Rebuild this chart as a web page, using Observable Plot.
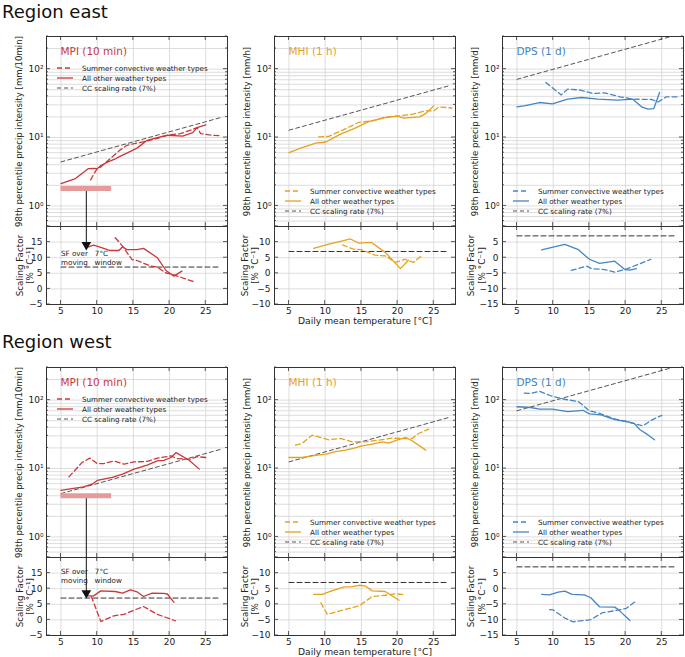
<!DOCTYPE html>
<html><head><meta charset="utf-8">
<script src="https://cdn.jsdelivr.net/npm/d3@7"></script>
<script src="https://cdn.jsdelivr.net/npm/@observablehq/plot@0.6"></script>
<style>
body{margin:0;background:#fff;}
#root{position:relative;width:685px;height:657px;font-family:"DejaVu Sans",sans-serif;overflow:hidden;background:#fff;}
#root svg{position:absolute;}
.rtitle{position:absolute;left:2px;font-size:18px;color:#111;line-height:1;white-space:nowrap;}
</style></head><body><div id="root"></div>
<script>
// ---------- DATA ----------
const regions = ["Region east", "Region west"];
const productTitles = ["MPI (10 min)", "MHI (1 h)", "DPS (1 d)"];
const productUnits = ["98th percentile precip intensity [mm/10min]", "98th percentile precip intensity [mm/h]", "98th percentile precip intensity [mm/d]"];
const productColors = ["#c9383a", "#e6a21c", "#4685c4"];
const legendLabels = ["Summer convective weather types", "All other weather types", "CC scaling rate (7%)"];
const xTicks = [5, 10, 15, 20, 25];
const logLabels = [1, 10, 100];
const logGrid = [0.5,0.6,0.7,0.8,0.9,1,2,3,4,5,6,7,8,9,10,20,30,40,50,60,70,80,90,100,200,300];
const sfDomains = [[-5, 20], [-10, 15], [-15, 10]];
const sfTicks = [[-5,0,5,10,15,20], [-10,-5,0,5,10,15], [-15,-10,-5,0,5,10]];
const sfReference = [[5, 7], [27, 7]];

// Region east, intensities [T, value]
const eastMpiAll = [[5,2.12],[7,2.51],[8.8,3.52],[9.5,3.55],[10,3.5],[10.5,3.9],[11.5,4.4],[12.6,4.93],[13,5.2],[14.1,5.9],[15.5,7.0],[16.9,9.1],[18.3,10],[19.7,10.8],[21.8,10.5],[23.2,11.8],[23.8,14],[25,15.3]];
const eastMpiConv = [[9.1,2.4],[9.6,3.0],[10,3.5],[10.5,3.7],[11.5,4.6],[12.5,5.7],[13.2,6.6],[14.1,7.7],[15.5,8.3],[16.9,8.9],[18.3,9.7],[19.9,10.9],[21.5,11.4],[22.9,12.8],[23.8,14],[24.3,11.4],[25.5,10.9],[27,10.6]];
const eastMpiCC = [[5,4.4],[27,19.5]];
const eastMhiAll = [[5,6.0],[6.8,7.1],[8.7,8.3],[10.1,8.6],[12.1,11.2],[14,13.5],[16,17.1],[17.9,19.2],[20,20.5],[20.9,19.2],[23,20],[23.9,22.4],[25,29]];
const eastMhiConv = [[9.1,10.2],[10.5,10.4],[12.4,12.8],[14.6,16.6],[17,17.9],[18.3,20],[20,20.6],[22.1,21.9],[23.9,24.6],[25,24.5],[25.7,28],[27.5,27]];
const eastMhiCC = [[5,12.8],[27,56.7]];
const eastDpsAll = [[5,28.1],[6,29],[8.1,32.5],[9.9,31],[12,36.4],[13.9,38.5],[16.2,36.4],[18.9,35.2],[21,36.4],[22.2,28.1],[23.1,26],[23.9,26.5],[24.7,45.6]];
const eastDpsConv = [[9,63.8],[10.4,48.2],[11.1,42],[12,51],[13.6,49.6],[15.5,44],[17.1,45],[19.2,39.4],[21,36.4],[23.6,36],[24.5,33],[25.6,39.4],[27.3,39.4]];
const eastDpsCC = [[5,71],[27,315]];
// Region east, scaling factors [T, %/°C]
const eastMpiAllSF = [[8.5,13.2],[9.5,14],[10.5,13.3],[11.8,12.3],[13,12.3],[13.5,13.5],[14.1,12.6],[15.5,12.6],[16.4,13],[18.3,10],[19.5,5.9],[20.6,4.1],[21.7,5.7]];
const eastMpiConvSF = [[12.5,16.4],[13.5,13.7],[14.8,9.4],[15.5,9.1],[17.4,7.3],[18.3,7],[19.5,5.1],[20.2,4.8],[23.4,2.25]];
const eastMhiAllSF = [[8.4,8.0],[10.1,9.1],[12.1,10.2],[13.5,11],[14.6,9.7],[16.4,9.9],[18.3,6.7],[20.4,1.5],[21.5,4.2]];
const eastMhiConvSF = [[12.4,9.1],[13.8,7.8],[15.1,7.5],[16.9,5.8],[18.3,5.6],[19.7,3.5],[21,4.5],[22.2,3.5],[23.4,5.8]];
const eastDpsAllSF = [[8.4,2.5],[9.7,3.2],[11.6,4.3],[13.4,2.7],[15,-0.5],[16.4,-1.8],[18.5,-1.1],[19.9,-3.8],[20.6,-4],[21.5,-3.5]];
const eastDpsConvSF = [[12.5,-4.1],[14.6,-2.7],[15.3,-3.5],[17.1,-3.8],[18.5,-4.6],[19.9,-3.8],[21.7,-2.2],[23.5,-0.5]];

// Region west, intensities
const westMpiAll = [[5,4.8],[6.5,5.1],[8.1,5.4],[9.3,5.9],[10,6.7],[12.1,7.4],[13.5,8.3],[15.1,9.8],[16.9,11.2],[18.3,12.9],[19.2,13.2],[20.2,14.5],[20.9,17.1],[22.7,13.2],[24.1,9.8]];
const westMpiConv = [[6.1,7.55],[7.9,12.2],[9,14.2],[10,11.8],[10.9,11.8],[12.3,12.9],[13.7,11.6],[15.1,12.5],[16.9,12.7],[18.3,14.2],[20.2,15.3],[21,14],[22.9,13.7],[23.8,14.9],[25,14.5]];
const westMpiCC = [[5,4.3],[27,19]];
const westMhiAll = [[5,14.5],[6.8,14.5],[8.9,15.7],[10.1,16.2],[11.4,17.7],[12.8,18.6],[14,19.8],[15.1,21.5],[16.5,22.7],[17.9,24.6],[18.8,23.5],[20,26.3],[21.1,28.4],[22,25.5],[23.9,18.6]];
const westMhiConv = [[5.9,21.9],[6.8,23.3],[8.2,30.7],[9.1,29],[10.5,26.3],[12.1,27.5],[13.7,24.6],[15.6,24.6],[17.4,26],[19.2,27.8],[20.6,27.5],[22,27.5],[22.9,32.5],[24.3,37.7]];
const westMhiCC = [[5,12.5],[27,55.4]];
const westDpsAll = [[5,80],[6.9,78],[8.1,74],[9.9,74],[12,68],[14.1,71],[15,63],[16.6,61],[18.5,52],[20.1,48.7],[21.2,45.6],[22,36.8],[23.1,31],[24,26.3]];
const westDpsConv = [[6,127],[6.9,125],[8.1,135],[9.7,115],[11.6,103],[13.5,95],[15,70],[16.2,65],[18.5,53],[20.1,48.7],[21.5,44.6],[22.4,42],[23.6,51],[25,60]];
const westDpsCC = [[5,70],[27,310]];
// Region west, scaling factors
const westMpiAllSF = [[8.5,7.7],[9.5,7.7],[10.5,9.3],[12.5,9.1],[13.5,8.6],[14.6,9.6],[15.5,9],[16.4,7.5],[17.6,8.6],[19.2,8.5],[19.7,8.3],[20.6,5.6]];
const westMpiConvSF = [[9.2,7.5],[10.5,-0.5],[12.3,1.3],[13.7,1.8],[16.4,4.3],[18.3,1.8],[20.8,-0.3]];
const westMhiAllSF = [[8.4,3.2],[9.6,3.2],[10.5,4],[12.6,5.6],[13.5,5.6],[14.7,6.1],[15.6,5.8],[16.5,4.3],[18.3,4.1],[20.2,1.3]];
const westMhiConvSF = [[9.4,0.5],[10.3,-3.2],[11.9,-2.2],[14.7,-0.5],[16.5,2.5],[18.3,2.9],[19.7,3.4],[21.1,3]];
const westDpsAllSF = [[8.4,-1.8],[9.5,-2],[10.7,-1.1],[11.6,-0.75],[12.6,-1.8],[14.3,-2],[15.2,-2.9],[16.4,-5.8],[18.5,-5.9],[19,-6.7],[20.6,-10.2]];
const westDpsConvSF = [[9.5,-6.7],[10,-6.8],[11.6,-9.4],[12.7,-10.6],[14.3,-10.2],[15.2,-9.9],[16.8,-7.7],[18.9,-6.9],[20.1,-6.3],[21.3,-4.2]];

// Moving-window annotation (MPI panels): bar span [T], bar level, arrow T, arrow tip SF
const windowSpan = [5, 12];
const windowBarLevel = [1.8, 4.0];
const windowArrowT = 8.5;
const windowArrowTip = [13.5, 8];
const windowTextLines = ["SF over\u00a0\u00a0\u00a07°C", "moving\u00a0\u00a0\u00a0window"];
const windowTextLevels = [[11.2, 8.5], [15.3, 12.6]];

// ---------- LAYOUT ----------
const colLefts = [46, 274, 502];
const frameW = 181;
const topH = 190, botH = 78;
const rowTops = [36, 366.5];
const titleTops = [3, 333];
const FONT = "DejaVu Sans, sans-serif";
const GRID = "#d4d4d4";

const root = document.getElementById("root");
regions.forEach((r, i) => {
  const d = document.createElement("div");
  d.className = "rtitle"; d.textContent = r; d.style.top = titleTops[i] + "px";
  root.appendChild(d);
});

const data = [
  [ {all: eastMpiAll, conv: eastMpiConv, cc: eastMpiCC, allSF: eastMpiAllSF, convSF: eastMpiConvSF},
    {all: eastMhiAll, conv: eastMhiConv, cc: eastMhiCC, allSF: eastMhiAllSF, convSF: eastMhiConvSF},
    {all: eastDpsAll, conv: eastDpsConv, cc: eastDpsCC, allSF: eastDpsAllSF, convSF: eastDpsConvSF} ],
  [ {all: westMpiAll, conv: westMpiConv, cc: westMpiCC, allSF: westMpiAllSF, convSF: westMpiConvSF},
    {all: westMhiAll, conv: westMhiConv, cc: westMhiCC, allSF: westMhiAllSF, convSF: westMhiConvSF},
    {all: westDpsAll, conv: westDpsConv, cc: westDpsCC, allSF: westDpsAllSF, convSF: westDpsConvSF} ]
];

function legendMark(color, dx, dy) {
  const items = [
    {label: legendLabels[0], stroke: color, dash: "5,3", w: 1.3},
    {label: legendLabels[1], stroke: color, dash: null, w: 1.3},
    {label: legendLabels[2], stroke: "#555", dash: "4,3", w: 1}
  ];
  return (index, scales, values, dims) => {
    const g = d3.create("svg:g");
    const x0 = dims.marginLeft + dx, y0 = dims.marginTop + dy;
    items.forEach((it, i) => {
      const y = y0 + i * 10;
      const l = g.append("line").attr("x1", x0).attr("x2", x0 + 16).attr("y1", y).attr("y2", y)
        .attr("stroke", it.stroke).attr("stroke-width", it.w).attr("fill", "none");
      if (it.dash) l.attr("stroke-dasharray", it.dash);
      g.append("text").attr("x", x0 + 25).attr("y", y).attr("dy", "0.35em").attr("text-anchor", "start")
        .attr("font-size", 7.2).attr("fill", "#222").attr("stroke", "none").attr("font-family", FONT).text(it.label);
    });
    return g.node();
  };
}

// inward tick marks on all four sides, placed with the plot's own scales
function inwardTicks(xMajor, yMajor, yMinor) {
  return (index, scales, values, dims) => {
    const g = d3.create("svg:g").attr("stroke", "#333").attr("stroke-width", 0.8);
    const L = dims.marginLeft, R = dims.width - dims.marginRight;
    const T = dims.marginTop, B = dims.height - dims.marginBottom;
    xMajor.forEach(v => {
      const x = scales.x(v);
      g.append("line").attr("x1", x).attr("x2", x).attr("y1", B).attr("y2", B - 4);
      g.append("line").attr("x1", x).attr("x2", x).attr("y1", T).attr("y2", T + 4);
    });
    const addY = (v, len) => {
      const y = scales.y(v);
      if (y < T - 0.5 || y > B + 0.5) return;
      g.append("line").attr("x1", L).attr("x2", L + len).attr("y1", y).attr("y2", y);
      g.append("line").attr("x1", R).attr("x2", R - len).attr("y1", y).attr("y2", y);
    };
    yMajor.forEach(v => addY(v, 4));
    yMinor.forEach(v => addY(v, 2));
    return g.node();
  };
}

const ML = 46, MR = 6, MT = 3;

function addTop(ri, ci) {
  const d = data[ri][ci], color = productColors[ci];
  const isMpi = ci === 0;
  const marks = [
    Plot.gridX(xTicks, {stroke: GRID, strokeOpacity: 1, strokeWidth: 0.8}),
    Plot.gridY(logGrid, {stroke: GRID, strokeOpacity: 1, strokeWidth: 0.8}),
    Plot.axisY(logLabels, {tickSize: 0, tickPadding: 3, fontSize: 9, label: null, tickFormat: v => ({1: "10⁰", 10: "10¹", 100: "10²"})[v]}),
    Plot.text([productUnits[ci]], {frameAnchor: "left", textAnchor: "middle", rotate: -90, dx: -27, fontSize: 8.6, fill: "#222", text: t => t}),
    Plot.line(d.cc, {x: "0", y: "1", stroke: "#555", strokeWidth: 1, strokeDasharray: "4,3", clip: true}),
    Plot.line(d.conv, {x: "0", y: "1", stroke: color, strokeWidth: 1.3, strokeDasharray: "5,3", clip: true}),
    Plot.line(d.all, {x: "0", y: "1", stroke: color, strokeWidth: 1.3, clip: true}),
    Plot.text([productTitles[ci]], {frameAnchor: "top-left", dx: 14, dy: 11, textAnchor: "start", fill: color, fontSize: 10.5, text: t => t}),
    legendMark(color, 11, isMpi ? 32 : 155),
    inwardTicks(xTicks, logLabels, logGrid.filter(v => !logLabels.includes(v))),
    Plot.frame({stroke: "#333", strokeWidth: 1})
  ];
  if (isMpi) {
    marks.push(Plot.ruleX([windowArrowT], {x: v => v, y1: windowBarLevel[ri], y2: 0.5, stroke: "#111", strokeWidth: 1}));
    marks.push(Plot.ruleY([windowBarLevel[ri]], {y: v => v, x1: windowSpan[0], x2: windowSpan[1], stroke: "#e49b9b", strokeWidth: 5}));
  }
  const p = Plot.plot({
    width: ML + frameW + MR, height: MT + topH + 3,
    marginLeft: ML, marginRight: MR, marginTop: MT, marginBottom: 3,
    x: {domain: [3, 28], axis: null},
    y: {type: "log", domain: [0.5, 300]},
    style: {background: "transparent", fontFamily: FONT, overflow: "visible", color: "#222"},
    marks
  });
  p.style.left = (colLefts[ci] - ML) + "px";
  p.style.top = (rowTops[ri] - MT) + "px";
  root.appendChild(p);
}

function addBottom(ri, ci) {
  const d = data[ri][ci], color = productColors[ci];
  const isMpi = ci === 0;
  const dom = sfDomains[ci];
  const marks = [
    Plot.gridX(xTicks, {stroke: GRID, strokeOpacity: 1, strokeWidth: 0.8}),
    Plot.gridY(sfTicks[ci], {stroke: GRID, strokeOpacity: 1, strokeWidth: 0.8}),
    Plot.axisY(sfTicks[ci].slice(0, -1), {tickSize: 0, tickPadding: 4, fontSize: 9, label: null}),
    Plot.axisX(xTicks, {tickSize: 0, tickPadding: 3, fontSize: 9, label: null}),
    Plot.text(["Scaling Factor\n[% °C⁻¹]"], {frameAnchor: "left", textAnchor: "middle", lineAnchor: "middle", rotate: -90, dx: [-22, -25, -26.5][ci], fontSize: 8.8, lineHeight: 1.2, fill: "#222", text: t => t}),
    Plot.line(sfReference, {x: "0", y: "1", stroke: "#333", strokeWidth: 1, strokeDasharray: "5,3"}),
    Plot.line(d.convSF, {x: "0", y: "1", stroke: color, strokeWidth: 1.3, strokeDasharray: "5,3", clip: true}),
    Plot.line(d.allSF, {x: "0", y: "1", stroke: color, strokeWidth: 1.3, clip: true}),
    inwardTicks(xTicks, sfTicks[ci], []),
    Plot.frame({stroke: "#333", strokeWidth: 1})
  ];
  if (ci === 1) {
    marks.push(Plot.text(["Daily mean temperature [°C]"], {frameAnchor: "bottom", dy: 19, fontSize: 9.2, fill: "#222", text: t => t}));
  }
  if (isMpi) {
    const tip = windowArrowTip[ri];
    marks.push(Plot.ruleX([windowArrowT], {x: v => v, y1: dom[1], y2: tip + 1, stroke: "#111", strokeWidth: 1}));
    marks.push(Plot.dot([[windowArrowT, tip]], {x: "0", y: "1", symbol: "triangle", rotate: 180, r: 3.6, fill: "#111", stroke: null, dy: -2}));
    marks.push(Plot.text(windowTextLines, {x: windowSpan[0], y: (t, i) => windowTextLevels[ri][i], textAnchor: "start", fontSize: 7.2, fill: "#222", text: t => t}));
  }
  const p = Plot.plot({
    width: ML + frameW + MR, height: MT + botH + 26,
    marginLeft: ML, marginRight: MR, marginTop: MT, marginBottom: 26,
    x: {domain: [3, 28]},
    y: {domain: dom},
    style: {background: "transparent", fontFamily: FONT, overflow: "visible", color: "#222"},
    marks
  });
  p.style.left = (colLefts[ci] - ML) + "px";
  p.style.top = (rowTops[ri] + topH - MT) + "px";
  root.appendChild(p);
}

for (let ri = 0; ri < 2; ri++) for (let ci = 0; ci < 3; ci++) { addTop(ri, ci); addBottom(ri, ci); }
</script></body></html>
